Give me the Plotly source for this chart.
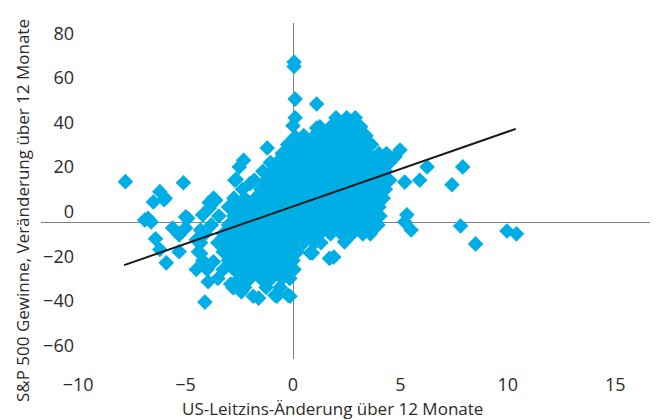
import plotly.graph_objects as go

# ---- data ----
# dense core of the cloud: one list of rate changes per earnings level
core_levels = [47, 43, 39, 35, 31, 27, 23, 19, 15, 11, 7, 3, -1, -5, -9, -13, -17, -21, -25, -29]
core_rows = [
    [2.0, 2.5, 2.9],
    [1.25, 1.75, 2.25, 2.75, 3.15],
    [0.5, 1.0, 1.5, 2.0, 2.5, 3.0, 3.4],
    [-0.25, 0.25, 0.75, 1.25, 1.75, 2.25, 2.75, 3.25, 3.65],
    [-0.5, 0.0, 0.5, 1.0, 1.5, 2.0, 2.5, 3.0, 3.5, 4.0, 4.35],
    [-1.05, -0.75, -0.25, 0.25, 0.75, 1.25, 1.75, 2.25, 2.75, 3.25, 3.75, 4.25, 4.5],
    [-1.4, -1.0, -0.5, 0.0, 0.5, 1.0, 1.5, 2.0, 2.5, 3.0, 3.5, 4.0, 4.3],
    [-1.8, -1.25, -0.75, -0.25, 0.25, 0.75, 1.25, 1.75, 2.25, 2.75, 3.25, 3.75, 4.25, 4.5],
    [-2.35, -1.5, -1.0, -0.5, 0.0, 0.5, 1.0, 1.5, 2.0, 2.5, 3.0, 3.5, 4.0, 4.3],
    [-2.75, -2.25, -1.75, -1.25, -0.75, -0.25, 0.25, 0.75, 1.25, 1.75, 2.25, 2.75, 3.25, 3.75, 4.2],
    [-3.0, -2.0, -1.5, -1.0, -0.5, 0.0, 0.5, 1.0, 1.5, 2.0, 2.5, 3.0, 3.5, 4.0],
    [-3.45, -2.75, -2.25, -1.75, -1.25, -0.75, -0.25, 0.25, 0.75, 1.25, 1.75, 2.25, 2.75, 3.25, 3.75, 4.05],
    [-3.8, -3.0, -2.5, -2.0, -1.5, -1.0, -0.5, 0.0, 0.5, 1.0, 1.5, 2.0, 2.5, 3.0, 3.5, 3.95],
    [-4.1, -3.25, -2.75, -2.25, -1.75, -1.25, -0.75, -0.25, 0.25, 0.75, 1.25, 1.75, 2.25, 2.75, 3.25, 3.6],
    [-4.3, -3.5, -3.0, -2.5, -2.0, -1.5, -1.0, -0.5, 0.0, 0.5, 1.0, 1.3],
    [-4.4, -3.25, -2.75, -2.25, -1.75, -1.25, -0.75, -0.25, 0.2],
    [-4.2, -3.0, -2.5, -2.0, -1.5, -1.0, -0.5, 0.0],
    [-4.0, -3.25, -2.75, -2.25, -1.75, -1.25, -0.75, -0.25, 0.05],
    [-3.5, -2.5, -2.0, -1.5, -1.0, -0.5, -0.15],
    [-2.75, -2.25, -1.25, -0.6],
]
# scattered points outside the core
outer_x = [
    0.05, 0.05, 0.1, 0.1, 0.0, 0.1, 1.1, 1.1,
    -1.2, -2.3, -2.5, -2.7, -2.0, -2.65, -3.7, -3.9, -2.5,
    -7.8, -5.1, -6.2, -6.5, -5.95, -6.0, -6.9, -6.6, -6.4, -6.2, -5.9,
    -5.6, -5.3, -5.3, -5.0, -5.0, -4.1, -3.9, -3.6, -4.2, -4.3, -4.5,
    -4.5, -3.95, -6.75, -4.9, -4.3, -3.7, -2.9, -2.1, -1.6, -0.75, -0.14,
    -1.4, -2.8, -2.4, -1.85, -0.84, -0.23, -1.5, -0.6,
    3.26, 4.98, 4.75, 6.24, 7.9, 5.2, 5.9, 7.4, 4.2, 3.8, 4.3,
    5.3, 5.2, 5.5, 7.8, 8.5, 9.96, 10.4,
    2.4, 1.9, 1.7, 0.9, 3.3, 3.7, 0.8,
]
outer_y = [
    72.0, 70.0, 55.4, 47.0, 43.5, 38.5, 53.2, 42.4,
    33.5, 28.0, 25.0, 19.0, 17.5, 19.5, 11.0, 9.0, 7.0,
    18.4, 17.9, 13.9, 9.3, 11.0, 10.3, 1.2, 0.3, -7.2, -12.0, -18.0,
    -2.4, -5.5, -13.0, 2.6, -2.4, -35.6, 6.5, 10.0, 3.5, -3.3, -7.7,
    -21.0, -26.5, 2.0, 2.0, -13.8, -17.5, -27.5, -25.7, -33.8, -33.0, -33.0,
    -20.0, -29.0, -31.0, -33.0, -32.5, -32.5, -21.0, -22.0,
    37.0, 32.6, 29.5, 25.0, 25.0, 18.2, 19.0, 17.0, 17.7, 26.8, 26.8,
    3.5, 0.3, -3.3, -1.5, -9.5, -3.7, -5.0,
    -8.6, -15.4, -16.0, -13.6, -2.0, -3.3, -13.6,
]

rate_change = [x for row in core_rows for x in row] + outer_x
earnings_change = [lvl for lvl, row in zip(core_levels, core_rows) for _ in row] + outer_y

# linear trend line
trend_x = [-7.86, 10.37]
trend_slope = 3.35
trend_intercept = 7.3

x_ticks = [-10, -5, 0, 5, 10, 15]
y_ticks = [-60, -40, -20, 0, 20, 40, 60, 80]

def fmt(v):
    return ("\u2212" + str(abs(v))) if v < 0 else str(v)

FONT = "Open Sans"
TXT = "#2b2b2b"
BLUE = "#00aee6"

fig = go.Figure()
fig.add_trace(go.Scatter(
    x=rate_change, y=earnings_change, mode="markers",
    marker=dict(symbol="diamond", size=12, color=BLUE, line=dict(width=0)),
    showlegend=False, hoverinfo="skip",
))
fig.add_trace(go.Scatter(
    x=trend_x, y=[trend_intercept + trend_slope * v for v in trend_x],
    mode="lines", line=dict(color="#1a1a1a", width=2),
    showlegend=False, hoverinfo="skip",
))

# page body has an 8px default margin: size the figure to fit the 658x420 window
fig.update_layout(
    width=650, height=412,
    margin=dict(l=33, r=0, t=15, b=61, autoexpand=False),
    paper_bgcolor="white", plot_bgcolor="white",
    font=dict(family=FONT, color=TXT),
    xaxis=dict(
        range=[-11.73, 16.99], tickvals=x_ticks, ticktext=[fmt(v) for v in x_ticks],
        showgrid=False, showline=False, ticks="",
        zeroline=True, zerolinecolor="#808080", zerolinewidth=1.3,
        tickfont=dict(family=FONT, size=18, color=TXT),
        ticklabelstandoff=13, automargin=False,
    ),
    yaxis=dict(
        range=[-61.1, 89.5], tickvals=y_ticks, ticktext=[fmt(v) for v in y_ticks],
        showgrid=False, showline=False, ticks="",
        zeroline=True, zerolinecolor="#808080", zerolinewidth=1.3,
        tickfont=dict(family=FONT, size=18, color=TXT),
        anchor="free", position=0.0535,
        ticklabelshift=-11, automargin=False,
    ),
    annotations=[
        dict(text="US-Leitzins-Änderung über 12 Monate", xref="paper", yref="paper",
             x=0.473, y=-0.146, xanchor="center", yanchor="middle", showarrow=False,
             font=dict(family=FONT, size=17, color=TXT)),
        dict(text="S&P 500 Gewinne, Veränderung über 12 Monate", xref="paper", yref="paper",
             x=-0.031, y=0.443, xanchor="center", yanchor="middle", showarrow=False,
             textangle=-90, font=dict(family=FONT, size=17, color=TXT)),
    ],
)

fig.write_html("out.html")
